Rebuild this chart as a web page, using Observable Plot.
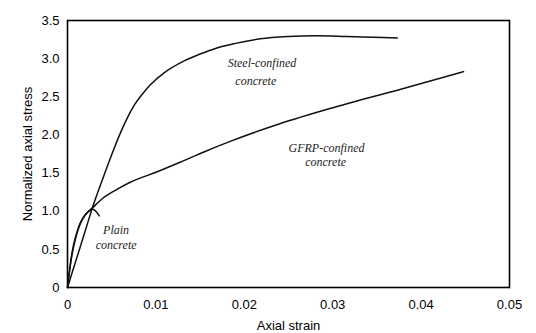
<!DOCTYPE html>
<html><head><meta charset="utf-8">
<script src="https://cdn.jsdelivr.net/npm/d3@7"></script>
<script src="https://cdn.jsdelivr.net/npm/@observablehq/plot@0.6"></script>
<style>body{margin:0;background:#fff}</style>
</head><body><div id="chart"></div>
<script>
const steelStrain = [0,0.001,0.002,0.0028,0.004,0.005,0.006,0.0068,0.0075,0.0085,0.0094,0.011,0.0132,0.015,0.0169,0.019,0.0218,0.025,0.028,0.0316,0.0345,0.0373];
const steelStress = [0,0.37,0.74,1.04,1.43,1.74,2.03,2.23,2.38,2.54,2.66,2.82,2.97,3.06,3.14,3.20,3.26,3.29,3.30,3.29,3.28,3.27];
const gfrpStrain = [0,0.0005,0.001,0.0015,0.002,0.0028,0.004,0.0055,0.0071,0.010,0.0128,0.0155,0.0184,0.0241,0.0298,0.0377,0.0448];
const gfrpStress = [0,0.45,0.70,0.86,0.95,1.04,1.17,1.28,1.38,1.51,1.645,1.78,1.915,2.15,2.35,2.60,2.83];
const plainStrain = [0,0.0005,0.001,0.0015,0.002,0.0025,0.0028,0.0032,0.0036];
const plainStress = [0,0.42,0.68,0.85,0.95,1.01,1.03,1.00,0.94];
const xTicks = [0,0.01,0.02,0.03,0.04,0.05];
const yTicks = [0,0.5,1.0,1.5,2.0,2.5,3.0,3.5];
const labels = [
  {x:0.0220, y:2.94, text:"Steel-confined"},
  {x:0.0213, y:2.71, text:"concrete"},
  {x:0.0293, y:1.83, text:"GFRP-confined"},
  {x:0.0292, y:1.64, text:"concrete"},
  {x:0.0055, y:0.75, text:"Plain"},
  {x:0.0055, y:0.55, text:"concrete"}
];
const mk = (xs, ys) => xs.map((x,i)=>({x, y: ys[i]}));
const steel = mk(steelStrain, steelStress);
const gfrp = mk(gfrpStrain, gfrpStress);
const plain = mk(plainStrain, plainStress);

const chart = Plot.plot({
  width: 536, height: 333,
  marginLeft: 67, marginRight: 27, marginTop: 20, marginBottom: 46,
  style: {fontFamily: "'Liberation Sans', Arial, sans-serif", fontSize: "13px", background: "#fff", color: "#000"},
  x: {domain: [0, 0.05]},
  y: {domain: [0, 3.5]},
  marks: [
    Plot.frame({stroke: "#000", strokeWidth: 1.6}),
    Plot.axisX({ticks: xTicks, tickSize: 0, tickPadding: 12, tickFormat: d => d === 0 ? "0" : d.toFixed(2),
      label: "Axial strain", labelAnchor: "center", labelOffset: 42, labelArrow: false, fontSize: 13}),
    Plot.axisY({ticks: yTicks, tickSize: 0, tickPadding: 8, tickFormat: d => d === 0 ? "0" : d.toFixed(1),
      label: "Normalized axial stress", labelAnchor: "center", labelOffset: 45, labelArrow: false, fontSize: 13}),
    Plot.line(steel, {x: "x", y: "y", stroke: "#111", strokeWidth: 1.5, curve: "monotone-x"}),
    Plot.line(gfrp, {x: "x", y: "y", stroke: "#111", strokeWidth: 1.5, curve: "monotone-x"}),
    Plot.line(plain, {x: "x", y: "y", stroke: "#111", strokeWidth: 1.5, curve: "catmull-rom"}),
    Plot.text(labels, {x: "x", y: "y", text: "text", fontFamily: "'Liberation Serif', 'Times New Roman', serif", fontStyle: "italic", fontSize: 12, fill: "#222"})
  ]
});
document.getElementById("chart").appendChild(chart);
</script>
</body></html>
